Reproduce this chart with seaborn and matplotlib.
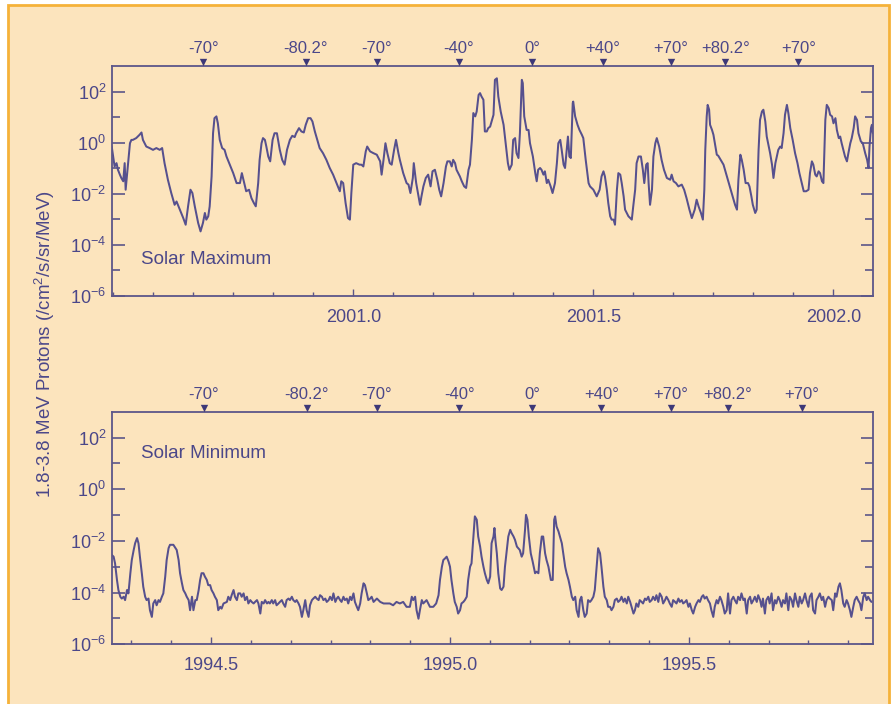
import numpy as np
import matplotlib
matplotlib.use("Agg")
import matplotlib.pyplot as plt
import matplotlib.transforms as mtransforms
from matplotlib.patches import Rectangle
from matplotlib.ticker import MultipleLocator, FixedLocator, FuncFormatter, NullFormatter
import seaborn as sns

# ---------------------------------------------------------------------------
# Ulysses 1.8-3.8 MeV proton intensity (log10 of /cm2/s/sr/MeV) versus time
# ---------------------------------------------------------------------------

# Solar maximum orbit (2000.5 - 2002.1)
max_year = [
    2000.497, 2000.500, 2000.503, 2000.507, 2000.510, 2000.514, 2000.517, 2000.521, 2000.524, 2000.526,
    2000.535, 2000.538, 2000.541, 2000.548, 2000.555, 2000.559, 2000.562, 2000.569, 2000.576, 2000.583,
    2000.590, 2000.597, 2000.602, 2000.607, 2000.614, 2000.621, 2000.628, 2000.632, 2000.639, 2000.646,
    2000.651, 2000.656, 2000.661, 2000.665, 2000.670, 2000.677, 2000.682, 2000.687, 2000.691, 2000.694,
    2000.698, 2000.701, 2000.705, 2000.708, 2000.711, 2000.715, 2000.718, 2000.722, 2000.727, 2000.732,
    2000.736, 2000.743, 2000.750, 2000.757, 2000.764, 2000.768, 2000.772, 2000.777, 2000.783, 2000.788,
    2000.793, 2000.797, 2000.802, 2000.805, 2000.809, 2000.812, 2000.816, 2000.819, 2000.823, 2000.827,
    2000.832, 2000.836, 2000.841, 2000.847, 2000.852, 2000.857, 2000.862, 2000.868, 2000.873, 2000.878,
    2000.881, 2000.887, 2000.892, 2000.897, 2000.901, 2000.906, 2000.911, 2000.915, 2000.920, 2000.925,
    2000.930, 2000.937, 2000.944, 2000.951, 2000.958, 2000.965, 2000.972, 2000.975, 2000.979, 2000.984,
    2000.989, 2000.993, 2000.996, 2001.000, 2001.006, 2001.013,
    2001.017, 2001.021, 2001.026, 2001.029, 2001.035, 2001.042, 2001.049, 2001.056, 2001.059, 2001.063,
    2001.067, 2001.071, 2001.076, 2001.080, 2001.085, 2001.089, 2001.094, 2001.097, 2001.104, 2001.111,
    2001.115, 2001.119, 2001.124, 2001.126, 2001.131, 2001.136, 2001.139, 2001.142, 2001.146, 2001.151,
    2001.156, 2001.161, 2001.165, 2001.170, 2001.175, 2001.179, 2001.183, 2001.188, 2001.193, 2001.196,
    2001.201, 2001.205, 2001.208, 2001.212, 2001.215, 2001.222, 2001.226, 2001.231, 2001.235, 2001.240,
    2001.243, 2001.247, 2001.250, 2001.254, 2001.257, 2001.261, 2001.264, 2001.267, 2001.271, 2001.274,
    2001.278, 2001.281, 2001.285, 2001.288, 2001.292, 2001.295, 2001.299, 2001.302, 2001.307, 2001.313,
    2001.317, 2001.322, 2001.325, 2001.330, 2001.333, 2001.337, 2001.340, 2001.344, 2001.347, 2001.351,
    2001.353, 2001.356, 2001.361, 2001.365, 2001.368, 2001.374, 2001.379, 2001.382, 2001.385, 2001.389,
    2001.392, 2001.396, 2001.399, 2001.403, 2001.406, 2001.411, 2001.415, 2001.420, 2001.424, 2001.427,
    2001.431, 2001.434, 2001.438, 2001.441, 2001.445, 2001.447, 2001.450, 2001.453, 2001.457, 2001.458,
    2001.462, 2001.467, 2001.471, 2001.476, 2001.479, 2001.484, 2001.490,
    2001.493, 2001.500, 2001.507, 2001.513, 2001.517, 2001.521, 2001.524, 2001.528, 2001.531, 2001.535,
    2001.538, 2001.542, 2001.545, 2001.549, 2001.552, 2001.556, 2001.559, 2001.563, 2001.566, 2001.573,
    2001.580, 2001.583, 2001.587, 2001.590, 2001.594, 2001.599, 2001.603, 2001.606, 2001.610, 2001.613,
    2001.615, 2001.618, 2001.622, 2001.625, 2001.629, 2001.632, 2001.637, 2001.642, 2001.647, 2001.653,
    2001.660, 2001.663, 2001.667, 2001.672, 2001.677, 2001.684, 2001.689, 2001.694, 2001.700, 2001.705,
    2001.711, 2001.715, 2001.719, 2001.724, 2001.728, 2001.731, 2001.733, 2001.736, 2001.738, 2001.741,
    2001.743, 2001.747, 2001.750, 2001.754, 2001.757, 2001.760, 2001.765, 2001.771, 2001.776, 2001.781,
    2001.788, 2001.795, 2001.799, 2001.802, 2001.806, 2001.809, 2001.813, 2001.817, 2001.822, 2001.825,
    2001.829, 2001.832, 2001.837, 2001.840, 2001.844, 2001.847, 2001.851, 2001.854, 2001.858, 2001.861,
    2001.868, 2001.872, 2001.875, 2001.879, 2001.882, 2001.885, 2001.889, 2001.892, 2001.896, 2001.899,
    2001.903, 2001.906, 2001.910, 2001.915, 2001.920, 2001.925, 2001.929, 2001.934, 2001.938, 2001.943,
    2001.948, 2001.951, 2001.955, 2001.958, 2001.962, 2001.965, 2001.969, 2001.972, 2001.976, 2001.979,
    2001.983, 2001.986, 2001.990, 2001.993, 2001.997, 2002.000, 2002.004, 2002.007, 2002.011, 2002.014,
    2002.017, 2002.024, 2002.028, 2002.031, 2002.035, 2002.038, 2002.042, 2002.045, 2002.049, 2002.052,
    2002.057, 2002.061, 2002.066, 2002.070, 2002.073, 2002.075, 2002.078, 2002.080, 2002.082,
]
max_log_flux = [
    -0.15, -0.54, -0.93, -0.80, -1.06, -1.25, -1.38, -1.51, -0.80, -1.84,
    -0.02, 0.11, 0.11, 0.18, 0.31, 0.40, 0.11, -0.15, -0.21, -0.28,
    -0.21, -0.28, -0.21, -0.80, -1.45, -1.97, -2.43, -2.30, -2.62, -2.95,
    -3.21, -2.49, -1.84, -1.97, -2.49, -3.14, -3.47, -3.14, -2.75, -3.01,
    -2.88, -2.49, -1.32, 0.37, 0.96, 1.03, 0.76, 0.11, -0.21, -0.28,
    -0.54, -0.86, -1.19, -1.58, -1.58, -1.19, -1.51, -1.90, -1.84, -2.17,
    -2.36, -2.49, -1.58, -0.67, -0.02, 0.18, 0.11, -0.15, -0.54, -0.73,
    0.11, 0.37, 0.37, -0.28, -0.67, -0.86, -0.28, 0.11, 0.27, 0.22,
    0.37, 0.57, 0.44, 0.40, 0.70, 0.96, 0.96, 0.83, 0.44, 0.11,
    -0.21, -0.41, -0.67, -0.99, -1.25, -1.58, -1.90, -1.51, -1.58, -2.36,
    -2.95, -3.01, -1.97, -0.86, -0.80, -0.86,
    -0.86, -0.93, -0.34, -0.15, -0.34, -0.41, -0.47, -0.73, -1.25, -0.67,
    -0.02, -0.41, -0.80, -0.86, -0.28, 0.11, -0.41, -0.67, -1.19, -1.58,
    -1.64, -1.97, -1.38, -0.80, -1.58, -2.10, -2.43, -2.10, -1.71, -1.38,
    -1.25, -1.71, -1.12, -1.06, -1.45, -1.84, -2.10, -1.58, -0.93, -0.73,
    -0.73, -0.93, -0.67, -0.80, -1.06, -1.32, -1.51, -1.71, -1.77, -1.06,
    -0.86, 0.11, 1.16, 1.03, 1.22, 1.87, 1.94, 1.81, 1.68, 0.44,
    0.44, 0.57, 0.63, 0.83, 1.09, 2.46, 2.52, 1.81, 1.22, 0.70,
    0.05, -0.80, -1.06, -0.86, 0.11, 0.18, -0.41, -0.60, 0.37, 2.46,
    2.33, 1.03, 0.50, 0.50, -0.02, -0.54, -1.19, -1.51, -1.06, -0.99,
    -1.06, -1.25, -1.12, -1.58, -1.45, -1.71, -1.97, -1.58, -0.80, -0.02,
    0.11, -0.28, -0.86, -0.99, -0.15, 0.24, -0.54, -0.60, 1.55, 1.61,
    1.03, 0.70, 0.50, 0.31, 0.18, -0.67, -1.58,
    -1.71, -1.84, -2.10, -1.84, -1.32, -1.12, -1.32, -1.84, -2.36, -2.88,
    -3.01, -3.01, -3.21, -1.84, -1.19, -1.25, -1.58, -2.10, -2.62, -2.88,
    -3.01, -2.49, -1.84, -0.80, -0.54, -0.54, -1.06, -1.58, -0.86, -0.80,
    -1.58, -2.43, -1.84, -0.54, -0.02, 0.18, -0.15, -0.67, -1.06, -1.38,
    -1.45, -1.25, -1.51, -1.58, -1.71, -1.64, -1.84, -2.17, -2.62, -2.95,
    -2.62, -2.23, -2.49, -2.75, -3.01, -1.84, -0.28, 1.03, 1.48, 1.29,
    0.70, 0.50, 0.31, -0.15, -0.47, -0.51, -0.67, -0.86, -1.19, -1.51,
    -1.97, -2.43, -2.62, -1.45, -0.47, -0.67, -1.06, -1.58, -1.58, -1.71,
    -2.10, -2.43, -2.75, -2.62, -0.28, 0.89, 1.22, 1.29, 0.83, 0.24,
    -0.41, -0.86, -1.38, -0.80, -0.54, -0.28, -0.15, -0.21, 0.37, 1.09,
    1.48, 1.16, 0.57, 0.11, -0.41, -0.80, -1.19, -1.58, -1.90, -1.90,
    -1.84, -1.19, -0.73, -0.86, -1.25, -1.32, -1.12, -1.19, -1.51, -1.58,
    0.89, 1.48, 1.35, 1.09, 1.03, 0.76, 0.96, 0.50, 0.18, 0.24,
    -0.02, -0.54, -0.73, -0.41, -0.02, 0.18, 0.57, 1.03, 0.89, 0.37,
    0.05, -0.02, -0.41, -0.67, -0.99, -0.15, 0.57, 0.70, 0.37,
]

# Solar minimum orbit (1994.3 - 1995.9)
min_year = [
    1994.292, 1994.296, 1994.299, 1994.303, 1994.306, 1994.310, 1994.313, 1994.317, 1994.320, 1994.324,
    1994.327, 1994.331, 1994.334, 1994.338, 1994.341, 1994.345, 1994.348, 1994.351, 1994.355, 1994.358,
    1994.362, 1994.365, 1994.369, 1994.372, 1994.376, 1994.379, 1994.383, 1994.386, 1994.390, 1994.393,
    1994.397, 1994.400, 1994.404, 1994.407, 1994.411, 1994.414, 1994.421, 1994.428, 1994.432, 1994.435,
    1994.439, 1994.442, 1994.446, 1994.449, 1994.453, 1994.456, 1994.460, 1994.463, 1994.467, 1994.470,
    1994.474, 1994.477, 1994.480, 1994.484, 1994.487, 1994.491, 1994.494, 1994.498, 1994.501, 1994.505,
    1994.508, 1994.512, 1994.515, 1994.519, 1994.522, 1994.526, 1994.533, 1994.536, 1994.540, 1994.543,
    1994.547, 1994.550, 1994.554, 1994.557, 1994.561, 1994.564, 1994.568, 1994.571, 1994.575, 1994.578,
    1994.582, 1994.585, 1994.589, 1994.592, 1994.596, 1994.599, 1994.603, 1994.606, 1994.610, 1994.613,
    1994.617, 1994.620, 1994.623, 1994.627, 1994.630, 1994.634, 1994.637, 1994.641, 1994.644, 1994.648,
    1994.651, 1994.655, 1994.658, 1994.662, 1994.665, 1994.669, 1994.672, 1994.676, 1994.679, 1994.683,
    1994.686, 1994.690, 1994.693, 1994.697, 1994.700, 1994.704, 1994.707, 1994.711, 1994.714, 1994.718,
    1994.721, 1994.725, 1994.728, 1994.732, 1994.735, 1994.739, 1994.742, 1994.746, 1994.749, 1994.753,
    1994.756, 1994.760, 1994.763, 1994.766,
    1994.770, 1994.773, 1994.777, 1994.780, 1994.784, 1994.787,
    1994.791, 1994.794, 1994.798, 1994.801, 1994.805, 1994.808, 1994.812, 1994.815, 1994.819, 1994.822,
    1994.826, 1994.829, 1994.833, 1994.836, 1994.840, 1994.847, 1994.854, 1994.861, 1994.867, 1994.874,
    1994.881, 1994.888, 1994.895, 1994.902, 1994.909, 1994.916, 1994.920, 1994.923, 1994.927, 1994.930,
    1994.934, 1994.937, 1994.941, 1994.944, 1994.951, 1994.958, 1994.965, 1994.971, 1994.976, 1994.979,
    1994.983, 1994.986, 1994.990, 1994.993, 1994.997, 1995.000, 1995.003, 1995.007, 1995.010, 1995.014,
    1995.017, 1995.021, 1995.024, 1995.028, 1995.031, 1995.035, 1995.038, 1995.042, 1995.045, 1995.049,
    1995.052, 1995.056, 1995.059, 1995.063, 1995.066, 1995.070, 1995.073, 1995.077, 1995.080, 1995.084,
    1995.087, 1995.091, 1995.093, 1995.095, 1995.098, 1995.101, 1995.105, 1995.108, 1995.112, 1995.115,
    1995.119, 1995.122, 1995.126, 1995.129, 1995.133, 1995.136, 1995.140, 1995.146, 1995.150, 1995.153,
    1995.157, 1995.159, 1995.162, 1995.165, 1995.169, 1995.173, 1995.178, 1995.181, 1995.185, 1995.188,
    1995.192, 1995.195, 1995.199, 1995.202, 1995.206, 1995.211, 1995.215, 1995.218, 1995.220, 1995.223,
    1995.227, 1995.230, 1995.234, 1995.237, 1995.241, 1995.244, 1995.248, 1995.251, 1995.255, 1995.258,
    1995.262, 1995.265, 1995.269, 1995.272, 1995.275, 1995.279, 1995.282, 1995.286, 1995.289, 1995.293,
    1995.296, 1995.300, 1995.303, 1995.307, 1995.310, 1995.314, 1995.317, 1995.321, 1995.324, 1995.328,
    1995.331,
    1995.335, 1995.338, 1995.342, 1995.345, 1995.349, 1995.352, 1995.356, 1995.359, 1995.363, 1995.366,
    1995.370, 1995.373, 1995.377, 1995.380, 1995.384, 1995.387, 1995.390, 1995.394, 1995.397, 1995.401,
    1995.404, 1995.408, 1995.411, 1995.415, 1995.418, 1995.422, 1995.425, 1995.429, 1995.432, 1995.436,
    1995.439, 1995.443, 1995.446, 1995.450, 1995.453, 1995.457, 1995.460, 1995.464, 1995.467, 1995.471,
    1995.474, 1995.478, 1995.481, 1995.485, 1995.488, 1995.492, 1995.495, 1995.499, 1995.502, 1995.506,
    1995.509, 1995.513, 1995.516, 1995.520, 1995.523, 1995.527, 1995.530, 1995.533, 1995.537, 1995.540,
    1995.544, 1995.547, 1995.551, 1995.554, 1995.558, 1995.561, 1995.565, 1995.568, 1995.572, 1995.575,
    1995.579, 1995.582, 1995.586, 1995.589, 1995.593, 1995.596, 1995.600, 1995.603, 1995.607, 1995.610,
    1995.614, 1995.617, 1995.621, 1995.624, 1995.628, 1995.631, 1995.635, 1995.638, 1995.642, 1995.645,
    1995.649, 1995.652, 1995.655, 1995.659, 1995.662, 1995.666, 1995.669, 1995.673, 1995.676, 1995.680,
    1995.683, 1995.687, 1995.690, 1995.694, 1995.697, 1995.701, 1995.704, 1995.708, 1995.711, 1995.715,
    1995.718, 1995.722, 1995.725, 1995.729, 1995.732, 1995.736, 1995.739, 1995.743, 1995.746, 1995.750,
    1995.753, 1995.757, 1995.760, 1995.764, 1995.767, 1995.771, 1995.774, 1995.778, 1995.781, 1995.785,
    1995.788, 1995.792, 1995.795, 1995.799, 1995.802, 1995.806, 1995.809, 1995.813, 1995.816, 1995.819,
    1995.823, 1995.826, 1995.830, 1995.833, 1995.837, 1995.840, 1995.844, 1995.847, 1995.851, 1995.854,
    1995.858, 1995.861, 1995.865, 1995.868, 1995.872, 1995.875, 1995.879, 1995.882,
]
min_log_flux = [
    -2.54, -2.61, -2.87, -3.51, -3.90, -4.16, -4.23, -4.16, -4.29, -3.90,
    -4.03, -3.25, -2.74, -2.35, -2.09, -1.89, -2.09, -2.61, -3.25, -3.77,
    -4.16, -4.29, -4.23, -4.68, -4.94, -4.42, -4.29, -4.49, -4.29, -4.36,
    -4.16, -4.03, -3.38, -2.74, -2.28, -2.15, -2.15, -2.35, -2.74, -3.25,
    -3.64, -3.90, -4.03, -4.16, -4.29, -4.68, -4.16, -4.68, -4.29, -4.29,
    -3.90, -3.51, -3.25, -3.25, -3.38, -3.51, -3.71, -3.71, -3.90, -4.03,
    -4.16, -4.29, -4.68, -4.55, -4.62, -4.42, -4.36, -4.16, -4.29, -4.10,
    -3.90, -4.16, -4.29, -4.03, -4.03, -4.16, -4.03, -4.29, -4.16, -4.42,
    -4.29, -4.36, -4.42, -4.36, -4.29, -4.42, -4.81, -4.36, -4.42, -4.29,
    -4.42, -4.36, -4.42, -4.29, -4.42, -4.29, -4.49, -4.42, -4.36, -4.29,
    -4.42, -4.55, -4.29, -4.23, -4.29, -4.16, -4.29, -4.36, -4.29, -4.42,
    -4.55, -4.94, -4.68, -4.29, -4.68, -4.94, -4.49, -4.29, -4.23, -4.16,
    -4.23, -4.29, -4.10, -4.16, -4.29, -4.23, -4.36, -4.29, -4.16, -4.29,
    -4.03, -4.36, -4.23, -4.16,
    -4.29, -4.36, -4.16, -4.29, -4.23, -4.42,
    -4.16, -4.29, -4.03, -4.36, -4.55, -4.68, -4.42, -4.03, -3.64, -3.71,
    -4.03, -4.29, -4.23, -4.16, -4.36, -4.23, -4.36, -4.42, -4.42, -4.42,
    -4.49, -4.36, -4.42, -4.36, -4.55, -4.55, -4.16, -4.29, -4.16, -4.68,
    -5.01, -4.68, -4.29, -4.42, -4.29, -4.55, -4.55, -4.42, -4.10, -3.51,
    -3.00, -2.74, -2.67, -2.61, -2.80, -3.00, -3.51, -4.03, -4.36, -4.55,
    -4.81, -4.68, -4.42, -4.36, -4.29, -4.16, -3.51, -3.00, -2.87, -1.83,
    -1.05, -1.18, -1.83, -2.22, -2.61, -3.00, -3.25, -3.51, -3.64, -3.38,
    -2.09, -1.83, -1.50, -1.96, -2.48, -3.25, -3.84, -3.90, -3.77, -3.00,
    -2.35, -1.83, -1.57, -1.70, -1.83, -1.96, -2.22, -2.35, -2.61, -2.48,
    -1.57, -0.99, -1.18, -1.83, -2.48, -2.80, -3.25, -3.19, -3.25, -2.48,
    -1.83, -1.83, -2.48, -2.74, -3.00, -3.51, -3.51, -1.18, -1.05, -1.44,
    -1.63, -1.83, -2.09, -2.48, -3.00, -3.25, -3.51, -3.77, -4.16, -4.29,
    -4.16, -4.68, -4.94, -4.29, -4.16, -4.68, -4.94, -4.81, -4.29, -4.36,
    -4.29, -4.16, -3.90, -3.00, -2.28, -2.48, -3.00, -3.77, -4.16, -4.29,
    -4.55,
    -4.55, -4.68, -4.55, -4.29, -4.23, -4.36, -4.29, -4.16, -4.36, -4.23,
    -4.42, -4.16, -4.36, -4.55, -4.81, -4.68, -4.42, -4.55, -4.29, -4.36,
    -4.42, -4.23, -4.29, -4.16, -4.36, -4.29, -4.16, -4.29, -4.10, -4.36,
    -4.03, -4.16, -4.42, -4.29, -4.16, -4.29, -4.42, -4.55, -4.29, -4.36,
    -4.42, -4.23, -4.36, -4.29, -4.42, -4.36, -4.29, -4.55, -4.42, -4.68,
    -4.81, -4.55, -4.42, -4.29, -4.36, -4.16, -4.10, -4.23, -4.16, -4.29,
    -4.42, -4.68, -4.94, -4.55, -4.29, -4.42, -4.16, -4.29, -4.55, -4.81,
    -4.68, -4.03, -4.81, -4.29, -4.16, -4.29, -4.42, -4.16, -4.29, -4.03,
    -4.29, -4.23, -4.81, -4.29, -4.16, -4.42, -4.29, -4.16, -4.36, -4.10,
    -4.29, -4.55, -4.23, -4.81, -4.29, -4.16, -4.42, -4.03, -4.68, -4.29,
    -4.42, -4.16, -4.29, -4.55, -4.29, -4.42, -4.03, -4.68, -4.16, -4.29,
    -4.55, -4.03, -4.29, -4.55, -4.16, -4.42, -4.29, -4.03, -4.29, -4.55,
    -4.16, -4.03, -4.68, -4.81, -4.29, -4.16, -4.03, -4.29, -4.16, -4.55,
    -4.29, -4.16, -4.23, -4.29, -4.68, -4.03, -4.16, -3.77, -3.64, -3.90,
    -4.42, -4.55, -4.29, -4.42, -4.68, -4.94, -4.55, -4.29, -4.16, -4.29,
    -4.42, -4.68, -4.16, -4.03, -4.29, -4.16, -4.29, -4.36,
]

# Spacecraft heliographic latitude markers along each orbit
angle_labels = ["-70°", "-80.2°", "-70°", "-40°", "0°", "+40°", "+70°", "+80.2°", "+70°"]
max_angle_year = [2000.688, 2000.901, 2001.049, 2001.220, 2001.372, 2001.519, 2001.661, 2001.775, 2001.927]
min_angle_year = [1994.485, 1994.700, 1994.847, 1995.019, 1995.172, 1995.317, 1995.462, 1995.581, 1995.737]

# Labelled year ticks on each time axis
max_year_ticks = [2001.0, 2001.5, 2002.0]
min_year_ticks = [1994.5, 1995.0, 1995.5]

assert len(max_year) == len(max_log_flux)
assert len(min_year) == len(min_log_flux)

# ---------------------------------------------------------------------------
sns.set_theme(style="ticks")
plt.rcParams["font.family"] = ["Liberation Sans", "DejaVu Sans"]
plt.rcParams["mathtext.default"] = "regular"

INK = "#4b4789"
LINE = "#56508e"
SPINE = "#5c5689"
PAPER = "#fce4bd"
FRAME = "#f5b23a"

fig = plt.figure(figsize=(8.93, 7.04), dpi=100)
fig.patch.set_facecolor("white")
fig.add_artist(Rectangle((7.5 / 893, -0.02), 881 / 893, 1.02 - 4.5 / 704,
                         transform=fig.transFigure, facecolor=PAPER,
                         edgecolor=FRAME, lw=2.0, zorder=-10))

ax_max = fig.add_axes([0.1251, 0.5795, 0.8529, 0.3267])
ax_min = fig.add_axes([0.1251, 0.0848, 0.8529, 0.3304])


def decade_label(v, _pos):
    return f"$10^{{{int(round(np.log10(v)))}}}$"


def draw_panel(ax, years, log_flux, xlim, year_ticks, angle_years, title, title_y):
    ax.set_facecolor("none")
    flux = np.power(10.0, np.asarray(log_flux))
    sns.lineplot(x=np.asarray(years), y=flux, ax=ax, color=LINE, lw=1.45,
                 estimator=None, sort=False)
    ax.set_yscale("log")
    ax.set_ylim(1e-6, 1e3)
    ax.set_xlim(*xlim)
    ax.set_xlabel("")
    ax.set_ylabel("")

    ax.yaxis.set_major_locator(FixedLocator([1e-6, 1e-4, 1e-2, 1e0, 1e2]))
    ax.yaxis.set_minor_locator(FixedLocator([1e-5, 1e-3, 1e-1, 1e1]))
    ax.yaxis.set_major_formatter(FuncFormatter(decade_label))
    ax.yaxis.set_minor_formatter(NullFormatter())
    ax.xaxis.set_major_locator(FixedLocator(year_ticks))
    ax.xaxis.set_minor_locator(MultipleLocator(1 / 12))
    ax.xaxis.set_major_formatter(FuncFormatter(lambda v, p: f"{v:.1f}"))

    ax.tick_params(axis="y", which="both", direction="in", left=True, right=True,
                   color=SPINE, labelcolor=INK, labelsize=13, width=1.2, pad=4)
    ax.tick_params(axis="y", which="major", length=9)
    ax.tick_params(axis="y", which="minor", length=5.5)
    ax.tick_params(axis="x", which="both", direction="in", bottom=True, top=False,
                   color=SPINE, labelcolor=INK, labelsize=13, width=1.0, pad=9)
    ax.tick_params(axis="x", which="major", length=5)
    ax.tick_params(axis="x", which="minor", length=3)
    for spine in ax.spines.values():
        spine.set_visible(True)
        spine.set_color(SPINE)
        spine.set_linewidth(1.3)

    # latitude markers above the top frame
    base = ax.get_xaxis_transform()
    tri = mtransforms.offset_copy(base, fig=fig, y=3.0, units="points")
    txt = mtransforms.offset_copy(base, fig=fig, y=12.5, units="points")
    ax.scatter(angle_years, [1.0] * len(angle_years), marker="v", s=28,
               color="#3d3878", transform=tri, clip_on=False, zorder=5, linewidths=0)
    for yr, lab in zip(angle_years, angle_labels):
        ax.text(yr, 1.0, lab, transform=txt, ha="center", va="center",
                fontsize=12, color=INK, clip_on=False)

    ax.text(0.039, title_y, title, transform=ax.transAxes, ha="left", va="center",
            fontsize=13.5, color=INK)


draw_panel(ax_max, max_year, max_log_flux, (2000.497, 2002.083), max_year_ticks,
           max_angle_year, "Solar Maximum", 0.157)
draw_panel(ax_min, min_year, min_log_flux, (1994.292, 1995.886), min_year_ticks,
           min_angle_year, "Solar Minimum", 0.821)

fig.text(0.050, 0.511, "1.8-3.8 MeV Protons (/cm$^{2}$/s/sr/MeV)", rotation=90,
         ha="center", va="center", fontsize=13.5, color=INK)

fig.savefig("out.png", dpi=100, facecolor=fig.get_facecolor())
